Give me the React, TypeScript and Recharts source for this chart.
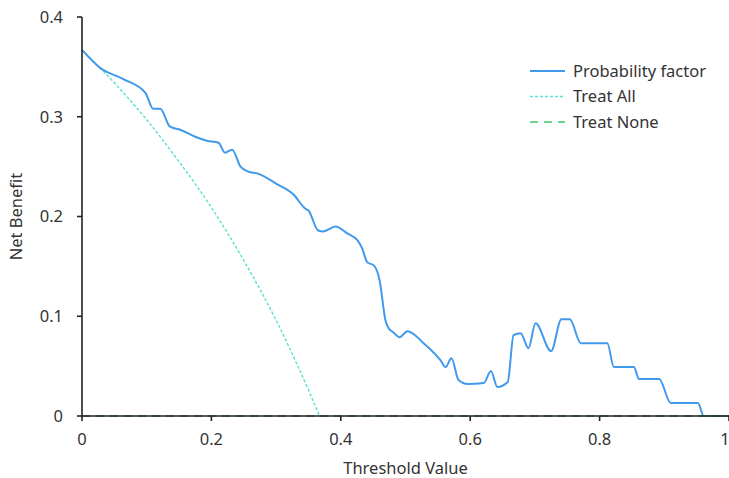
import React from 'react';
import { LineChart, Line, XAxis, YAxis } from 'recharts';

// threshold values and net benefit
const modelThresholds = [0, 0.028, 0.063, 0.098, 0.11, 0.121, 0.136, 0.152, 0.175, 0.193, 0.211, 0.221, 0.232, 0.245, 0.257, 0.272, 0.3, 0.327, 0.345, 0.35, 0.365, 0.373, 0.392, 0.41, 0.426, 0.433, 0.441, 0.451, 0.46, 0.469, 0.474, 0.481, 0.491, 0.503, 0.528, 0.554, 0.562, 0.571, 0.582, 0.596, 0.621, 0.632, 0.642, 0.658, 0.667, 0.678, 0.69, 0.701, 0.725, 0.741, 0.754, 0.771, 0.812, 0.822, 0.853, 0.861, 0.892, 0.91, 0.952, 0.961, 1];
const modelBenefit = [0.367, 0.349, 0.338, 0.324, 0.308, 0.308, 0.29, 0.287, 0.28, 0.276, 0.274, 0.264, 0.267, 0.25, 0.245, 0.243, 0.233, 0.222, 0.208, 0.206, 0.186, 0.185, 0.19, 0.183, 0.176, 0.168, 0.154, 0.151, 0.136, 0.096, 0.088, 0.084, 0.079, 0.085, 0.073, 0.056, 0.049, 0.058, 0.036, 0.032, 0.033, 0.045, 0.029, 0.034, 0.081, 0.083, 0.068, 0.093, 0.065, 0.097, 0.097, 0.073, 0.073, 0.049, 0.049, 0.037, 0.037, 0.013, 0.013, 0, 0];

const allThresholds = [0, 0.05, 0.1, 0.15, 0.2, 0.25, 0.3, 0.35, 0.367];
const allBenefit = [0.367, 0.334, 0.297, 0.255, 0.209, 0.156, 0.096, 0.026, 0];

const noneThresholds = [0, 1];
const noneBenefit = [0, 0];

const xTicks = [0, 0.2, 0.4, 0.6, 0.8, 1];
const yTicks = [0, 0.1, 0.2, 0.3, 0.4];

const seriesNames = ['Probability factor', 'Treat All', 'Treat None'];

const toRows = (xs: number[], ys: number[]) => xs.map((x, i) => ({ x, y: ys[i] }));

const FONT = '"Noto Sans", sans-serif';
const TEXT = '#333';
const FS = 16.5;

const BLUE = '#4199ec';
const TURQ = '#55e3d0';
const GREEN = '#3cc868';

const LEGEND_ITEMS = [
    { name: seriesNames[0], color: BLUE, dash: undefined, width: 2 },
    { name: seriesNames[1], color: TURQ, dash: '3 2', width: 1.3 },
    { name: seriesNames[2], color: GREEN, dash: '8 6', width: 1.5 },
];

// legend drawn as an overlay so it does not shrink the plot area
const LegendBox = () => (
    <svg width={200} height={80} style={{ position: 'absolute', left: 528, top: 60 }}>
        {LEGEND_ITEMS.map((item, i) => (
            <g key={item.name} transform={`translate(0, ${11 + i * 25.5})`}>
                <line x1={2} x2={37} y1={0} y2={0} stroke={item.color} strokeWidth={item.width} strokeDasharray={item.dash} />
                <text x={45} y={0} dy="0.35em" fontSize={FS} fill={TEXT} fontFamily={FONT}>{item.name}</text>
            </g>
        ))}
    </svg>
);

const App: React.FC = () => {
    return (
        <div style={{ position: 'absolute', left: 0, top: 0, width: 729, height: 478, fontFamily: FONT }}>
            <LineChart width={729} height={478} margin={{ top: 17, right: 0, bottom: 0, left: 0 }}>
                <XAxis
                    dataKey="x"
                    type="number"
                    domain={[0, 1]}
                    ticks={xTicks}
                    height={62}
                    tickSize={5}
                    tickMargin={12}
                    stroke="#222"
                    strokeWidth={1.6}
                    tick={{ fill: TEXT, fontSize: FS, fontFamily: FONT }}
                    label={{ value: 'Threshold Value', position: 'insideBottom', offset: 4, fill: TEXT, fontSize: FS, fontFamily: FONT }}
                />
                <YAxis
                    dataKey="y"
                    type="number"
                    domain={[0, 0.4]}
                    ticks={yTicks}
                    width={82}
                    tickSize={5}
                    tickMargin={14}
                    stroke="#222"
                    strokeWidth={1.6}
                    tick={{ fill: TEXT, fontSize: FS, fontFamily: FONT }}
                    label={{ value: 'Net Benefit', angle: -90, position: 'insideLeft', offset: 16, fill: TEXT, fontSize: FS, fontFamily: FONT, style: { textAnchor: 'middle' } }}
                />
                <Line
                    data={toRows(allThresholds, allBenefit)}
                    dataKey="y"
                    name={seriesNames[1]}
                    type="monotone"
                    stroke={TURQ}
                    strokeWidth={1.4}
                    strokeDasharray="3 2"
                    dot={false}
                    isAnimationActive={false}
                />
                <Line
                    data={toRows(modelThresholds, modelBenefit)}
                    dataKey="y"
                    name={seriesNames[0]}
                    type="monotone"
                    stroke={BLUE}
                    strokeWidth={2}
                    dot={false}
                    isAnimationActive={false}
                />
                <Line
                    data={toRows(noneThresholds, noneBenefit)}
                    dataKey="y"
                    name={seriesNames[2]}
                    type="linear"
                    stroke="#2f9d4c"
                    strokeWidth={1.5}
                    strokeDasharray="8 6"
                    dot={false}
                    isAnimationActive={false}
                />
            </LineChart>
            <LegendBox />
        </div>
    );
};

export default App;
